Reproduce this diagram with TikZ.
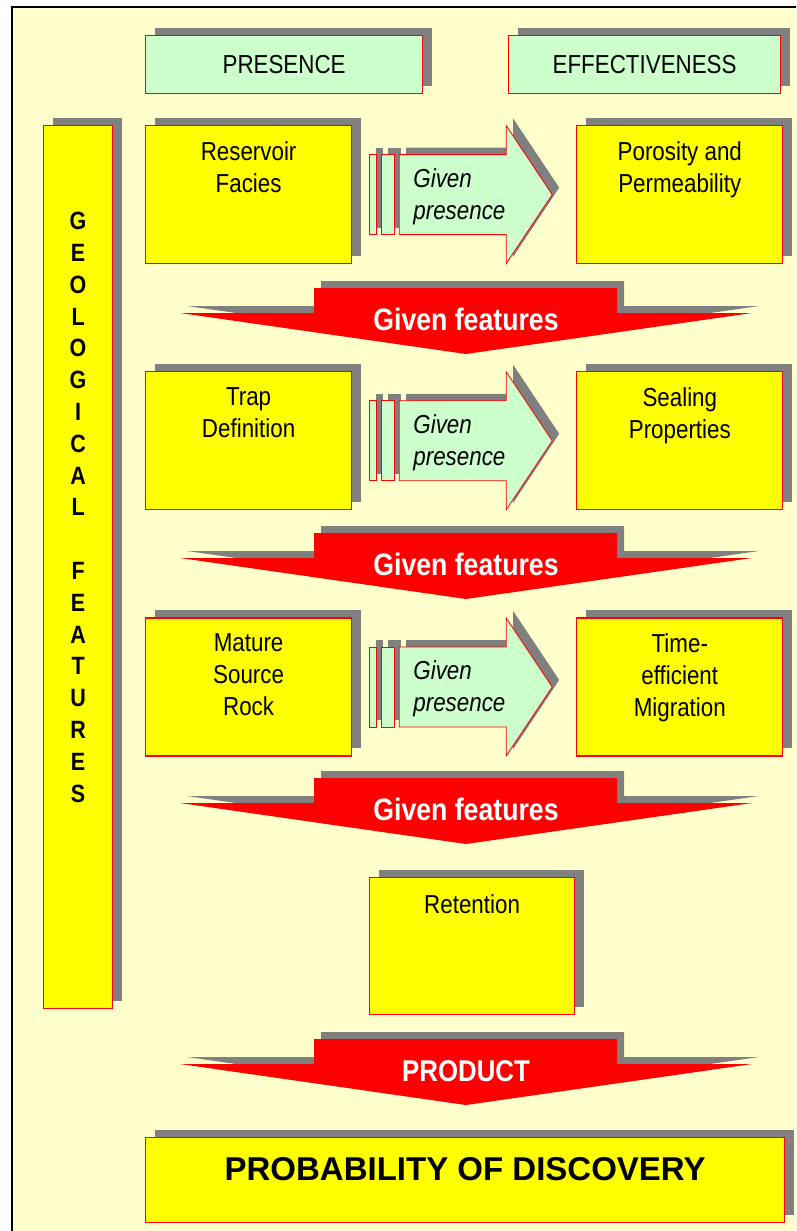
\documentclass[tikz,border=0pt]{standalone}
\usepackage{fontspec}
\setmainfont{Liberation Sans}[FakeStretch=0.86]
\newfontfamily\widefont{Liberation Sans}
\usetikzlibrary{positioning,shadows}
\definecolor{bgyellow}{HTML}{FFFFCC}
\definecolor{boxyellow}{HTML}{FFFF00}
\definecolor{boxred}{HTML}{FF0000}
\definecolor{palegreen}{HTML}{CCFFCC}
\definecolor{shadowgray}{HTML}{808080}
\tikzset{
  boxshadow/.style={drop shadow={shadow xshift=9pt,shadow yshift=8pt,fill=shadowgray,opacity=1}},
  arrowshadow/.style={drop shadow={shadow xshift=7pt,shadow yshift=7pt,fill=shadowgray,opacity=1}},
  featbox/.style={rectangle,draw=boxred,line width=1.2pt,fill=boxyellow,boxshadow,
    minimum width=206pt,minimum height=138pt,inner sep=0pt},
  headbox/.style={rectangle,draw=boxred,line width=1.2pt,fill=palegreen,boxshadow,
    minimum height=58pt,inner sep=0pt,font=\fontsize{26}{30}\selectfont},
  boxtext/.style={anchor=north,align=center,inner sep=0pt,font=\fontsize{26}{32}\selectfont},
  prestext/.style={anchor=west,align=left,inner sep=0pt,font=\itshape\fontsize{26}{32}\selectfont},
  whitetext/.style={text=white,inner sep=0pt,font=\bfseries\fontsize{31}{36}\selectfont},
  arrowpart/.style={draw=boxred,line width=0.8pt,fill=palegreen,arrowshadow},
  presarrow/.pic={
    \filldraw[arrowpart] (0,-40) rectangle (7,40);
    \filldraw[arrowpart] (12,-40) rectangle (25,40);
    \filldraw[arrowpart] (30,-40) -- (137,-40) -- (137,-69) -- (183,0)
      -- (137,69) -- (137,40) -- (30,40) -- cycle;
  },
  featarrow/.pic={
    \fill[boxred,arrowshadow] (-152,0) -- (151,0) -- (151,25) -- (286,25)
      -- (0,66) -- (-286,25) -- (-152,25) -- cycle;
  }
}
\begin{document}
\begin{tikzpicture}[x=1pt,y=-1pt]
  \useasboundingbox (0,0) rectangle (796,1231);
  \clip (0,0) rectangle (796,1231);
  \fill[white] (0,0) rectangle (796,1231);
  \filldraw[fill=bgyellow,draw=black,line width=2.5pt] (12,7) rectangle (840,1270);

  % column headings
  \node[headbox,anchor=north west,minimum width=277pt] (pres) at (145,35) {PRESENCE};
  \node[headbox,anchor=north west,minimum width=272pt] (eff) at (508,35) {EFFECTIVENESS};

  % side column
  \node[featbox,anchor=north west,minimum width=69pt,minimum height=883pt] (geo) at (43,125) {};
  \node[boxtext,font=\bfseries\fontsize{25}{31.8}\selectfont] (geotxt) at ([yshift=-87pt]geo.north)
    {G\\E\\O\\L\\O\\G\\I\\C\\A\\L\\\mbox{}\\F\\E\\A\\T\\U\\R\\E\\S};

  % feature boxes
  \node[featbox,anchor=north west] (res) at (145,125) {};
  \node[featbox,right=224pt of res] (por) {};
  \node[featbox,below=107pt of res] (trap) {};
  \node[featbox,below=107pt of por] (seal) {};
  \node[featbox,below=107pt of trap] (mat) {};
  \node[featbox,below=107pt of seal] (mig) {};
  \node[featbox,anchor=north west,minimum width=205pt,minimum height=137pt] (ret) at (369,877) {};
  \node[featbox,anchor=north west,minimum width=639pt,minimum height=85pt] (disc) at (145,1137) {};

  \node[boxtext] (restxt) at ([yshift=-16pt]res.north) {Reservoir\\Facies};
  \node[boxtext] (portxt) at ([yshift=-16pt]por.north) {Porosity and\\Permeability};
  \node[boxtext] (traptxt) at ([yshift=-16pt]trap.north) {Trap\\Definition};
  \node[boxtext] (sealtxt) at ([yshift=-16pt]seal.north) {Sealing\\Properties};
  \node[boxtext] (mattxt) at ([yshift=-16pt]mat.north) {Mature\\Source\\Rock};
  \node[boxtext] (migtxt) at ([yshift=-16pt]mig.north) {Time-\\efficient\\Migration};
  \node[boxtext] (rettxt) at ([yshift=-17pt]ret.north) {Retention};
  \node[boxtext,font=\widefont\bfseries\fontsize{33}{40}\selectfont] (disctxt) at ([yshift=-20pt]disc.north)
    {PROBABILITY OF DISCOVERY};

  % given presence arrows
  \pic at ([xshift=17pt]res.east) {presarrow};
  \pic at ([xshift=17pt]trap.east) {presarrow};
  \pic at ([xshift=17pt]mat.east) {presarrow};
  \node[prestext] (gp1) at ([xshift=61pt,yshift=-2pt]res.east) {Given\\presence};
  \node[prestext] (gp2) at ([xshift=61pt,yshift=-2pt]trap.east) {Given\\presence};
  \node[prestext] (gp3) at ([xshift=61pt,yshift=-2pt]mat.east) {Given\\presence};

  % red arrows
  \pic at (466,288) {featarrow};
  \pic at (466,533) {featarrow};
  \pic at (466,778) {featarrow};
  \pic at (466,1039) {featarrow};
  \node[whitetext] (gf1) at (466,319) {Given features};
  \node[whitetext] (gf2) at (466,564) {Given features};
  \node[whitetext] (gf3) at (466,809) {Given features};
  \node[whitetext,font=\bfseries\fontsize{30}{34}\selectfont] (prod) at (466,1071) {PRODUCT};
\end{tikzpicture}
\end{document}
